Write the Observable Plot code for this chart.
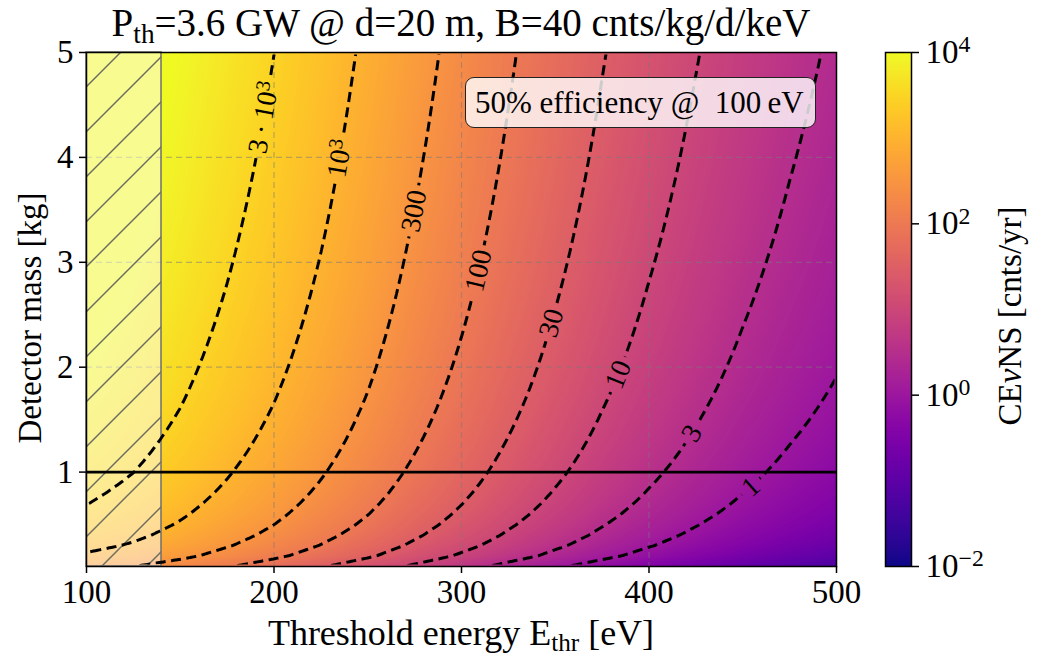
<!DOCTYPE html>
<html><head><meta charset="utf-8">
<script src="https://cdn.jsdelivr.net/npm/d3@7"></script>
<script src="https://cdn.jsdelivr.net/npm/@observablehq/plot@0.6"></script>
<style>
body{margin:0;background:#fff;}
#wrap{position:relative;width:1037px;height:657px;overflow:hidden;font-family:"Liberation Serif","Times New Roman",Times,serif;color:#000;background:#fff;}
.abs{position:absolute;white-space:nowrap;line-height:1;}
sub{font-size:0.7em;vertical-align:-0.25em;line-height:0;}
#wrap svg{position:absolute;top:0;}
</style></head><body><div id="wrap"></div>
<script>
// ---- data ----
const energies = [100,125,150,175,200,225,250,275,300,325,350,375,400,425,450,475,500];   // eV
const logRate1kg = [3.64,3.48,3.27,3.03,2.78,2.51,2.23,1.93,1.64,1.35,1.07,0.80,0.55,0.32,0.10,-0.10,-0.28]; // log10 cnts/yr for 1 kg
const energyDomain = [100,500];
const massDomain = [0.1,5];
const energyTicks = [100,200,300,400,500];
const massTicks = [1,2,3,4,5];
const contourLevels = [1,3,10,30,100,300,1000,3000];
const contourLabels = ["1","3","10","30","100","300","10|3","3\u2009·\u200910|3"];
const labelMass = [0.86,1.37,1.93,2.42,2.92,3.49,3.99,4.38];
const colorExpTicks = [-2,0,2,4];
const colorExpLabels = ["−2","0","2","4"];
const hatchRange = [100,140];
const referenceMass = 1;
const titleHTML = "P<sub>th</sub>=3.6 GW @ d=20 m, B=40 cnts/kg/d/keV";
const xLabelHTML = "Threshold energy E<sub>thr</sub> [eV]";
const yLabelText = "Detector mass [kg]";
const cbLabelHTML = "CE<i>ν</i>NS [cnts/yr]";
const legendHTML = "50% efficiency @&nbsp; 100&thinsp;eV";

// ---- layout ----
const W = 870, H = 657, ML = 86, MR = 34, MT = 52, MB = 91;
const FONT = '"Liberation Serif", "Times New Roman", Times, serif';

// grid of samples: counts = mass * rate(1 kg)
const masses = d3.range(1, 51).map(i => i / 10);
const grid = energies.flatMap((E, i) => masses.map(m => ({E, m, v: logRate1kg[i] + Math.log10(m)})));

// contour label positions: invert the rate curve at the chosen mass
const sx = (W - ML - MR) / (energyDomain[1] - energyDomain[0]);
const sy = (H - MT - MB) / (massDomain[1] - massDomain[0]);
const labels = contourLevels.map((L, k) => {
  const m = labelMass[k];
  const t = Math.log10(L) - Math.log10(m);
  let i = 0;
  while (i < energies.length - 2 && logRate1kg[i + 1] > t) i++;
  const g0 = logRate1kg[i], g1 = logRate1kg[i + 1];
  const E = energies[i] + (g0 - t) / (g0 - g1) * (energies[i + 1] - energies[i]);
  const slope = (g1 - g0) / (energies[i + 1] - energies[i]);
  const angle = Math.atan2(sy * m * Math.LN10 * slope, sx) * 180 / Math.PI;
  return {E, m, text: contourLabels[k], angle};
});

const colorScale = {type: "linear", scheme: "plasma", domain: [colorExpTicks[0], colorExpTicks[colorExpTicks.length - 1]], clamp: true};

const main = Plot.plot({
  width: W, height: H, marginLeft: ML, marginRight: MR, marginTop: MT, marginBottom: MB,
  style: {fontFamily: FONT, fontSize: "33px", color: "black", background: "transparent", overflow: "visible"},
  x: {domain: energyDomain, label: null},
  y: {domain: massDomain, label: null},
  color: colorScale,
  marks: [
    Plot.raster(grid, {x: "E", y: "m", fill: "v", interpolate: "barycentric"}),
    Plot.gridX(energyTicks.slice(1, -1), {stroke: "#7a7a7a", strokeOpacity: 0.5, strokeDasharray: "6,4", strokeWidth: 1.2}),
    Plot.gridY(massTicks.slice(0, -1), {stroke: "#7a7a7a", strokeOpacity: 0.5, strokeDasharray: "6,4", strokeWidth: 1.2}),
    Plot.rect([hatchRange], {x1: d => d[0], x2: d => d[1], y1: () => massDomain[0], y2: () => massDomain[1], fill: "white", fillOpacity: 0.5}),
    Plot.rect([hatchRange], {x1: d => d[0], x2: d => d[1], y1: () => massDomain[0], y2: () => massDomain[1], fill: "url(#hatch)", stroke: "#6f6f6f", strokeWidth: 1.5}),
    Plot.ruleY([referenceMass], {stroke: "black", strokeWidth: 2.7}),
    Plot.contour(grid, {x: "E", y: "m", value: "v", interpolate: "barycentric", thresholds: contourLevels.map(Math.log10),
      stroke: "black", fill: "none", strokeWidth: 3, strokeDasharray: "10,5.5"}),
    Plot.text(labels, {x: "E", y: "m", text: d => d.text.replace("|", ""), rotate: "angle", fontSize: 28, fill: "black", fontFamily: FONT}),
    Plot.frame({stroke: "black", strokeWidth: 1.5}),
    Plot.axisX(energyTicks, {tickSize: 7, tickPadding: 6, strokeWidth: 1.5, tickFormat: d => String(d), fontSize: 33}),
    Plot.axisY(massTicks, {tickSize: 7, tickPadding: 6, strokeWidth: 1.5, tickFormat: d => String(d), fontSize: 33})
  ]
});

const cb = Plot.plot({
  width: 177, height: H, marginLeft: 25, marginRight: 126, marginTop: MT, marginBottom: MB,
  style: {fontFamily: FONT, fontSize: "33px", color: "black", background: "transparent", overflow: "visible"},
  x: {domain: [0, 1], axis: null},
  y: {domain: [colorExpTicks[0], colorExpTicks[colorExpTicks.length - 1]], axis: null},
  color: colorScale,
  marks: [
    Plot.raster({fill: (x, y) => y, x1: 0, x2: 1, y1: colorExpTicks[0], y2: colorExpTicks[colorExpTicks.length - 1]}),
    Plot.frame({stroke: "black", strokeWidth: 1.5}),
    Plot.axisY(colorExpTicks, {anchor: "right", tickSize: 7, tickPadding: 7, strokeWidth: 1.5, tickFormat: () => "10", fontSize: 33, textAnchor: "start"})
  ]
});

const wrap = document.getElementById("wrap");
main.style.left = "0px";
cb.style.left = "860px";
wrap.appendChild(main);
wrap.appendChild(cb);

const ns = "http://www.w3.org/2000/svg";
function sup(parent, txt, dy) {
  const s = document.createElementNS(ns, "tspan");
  s.setAttribute("dy", dy);
  s.setAttribute("font-size", "0.72em");
  s.textContent = txt;
  parent.appendChild(s);
}
// superscript exponents on colorbar ticks
cb.querySelectorAll('g[aria-label="y-axis tick label"] text').forEach((t, i) => sup(t, colorExpLabels[i], "-0.45em"));

// superscripts in contour labels ("10|3" -> 10 with raised 3)
const labelTexts = main.querySelectorAll('g[aria-label="text"] text');
labelTexts.forEach((t, i) => {
  const raw = labels[i].text;
  if (raw.includes("|")) {
    const [base, exp] = raw.split("|");
    t.textContent = base;
    sup(t, exp, "-0.42em");
  }
});

// hatch pattern + contour clipping (label gaps, frame edges)
const defs = document.createElementNS(ns, "defs");
const ins = 2;
defs.innerHTML = `<pattern id="hatch" patternUnits="userSpaceOnUse" width="45" height="45" patternTransform="translate(-7,0)">
  <path d="M-5,5L5,-5M0,45L45,0M40,50L50,40" stroke="#6e6e60" stroke-width="1.5" fill="none"/></pattern>
  <mask id="clabmask" maskUnits="userSpaceOnUse" x="0" y="0" width="${W}" height="${H}">
  <rect x="${ML + ins}" y="${MT + ins}" width="${W - ML - MR - 2 * ins}" height="${H - MT - MB - 2 * ins}" fill="white"/></mask>`;
main.insertBefore(defs, main.firstChild);
const mask = defs.querySelector("#clabmask");
labelTexts.forEach(t => {
  const bb = t.getBBox();
  const r = document.createElementNS(ns, "rect");
  r.setAttribute("x", bb.x - 5); r.setAttribute("y", bb.y + 2);
  r.setAttribute("width", bb.width + 10); r.setAttribute("height", bb.height - 4);
  r.setAttribute("transform", t.getAttribute("transform") || "");
  r.setAttribute("fill", "black");
  mask.appendChild(r);
});
const cg = main.querySelector('g[aria-label="contour"]');
if (cg) cg.setAttribute("mask", "url(#clabmask)");

// text overlays
function addDiv(html, style) {
  const d = document.createElement("div");
  d.className = "abs"; d.innerHTML = html;
  Object.assign(d.style, style);
  wrap.appendChild(d);
  return d;
}
addDiv(titleHTML, {left: (ML - 40) + "px", width: (W - ML - MR + 80) + "px", textAlign: "center", top: "3px", fontSize: "39px"});
addDiv(xLabelHTML, {left: ML + "px", width: (W - ML - MR) + "px", textAlign: "center", top: "615px", fontSize: "36px"});
addDiv(yLabelText, {left: "30px", top: "318px", fontSize: "33px", transform: "translate(-50%,-50%) rotate(-90deg)"});
addDiv(cbLabelHTML, {left: "1010px", top: "316px", fontSize: "33px", transform: "translate(-50%,-50%) rotate(-90deg)"});
addDiv(legendHTML, {left: "465px", top: "77px", width: "351px", height: "51px", boxSizing: "border-box",
  border: "1.5px solid #222", borderRadius: "9px", background: "rgba(255,255,255,0.8)", fontSize: "31px",
  display: "flex", alignItems: "center", paddingLeft: "9px"});
</script></body></html>
